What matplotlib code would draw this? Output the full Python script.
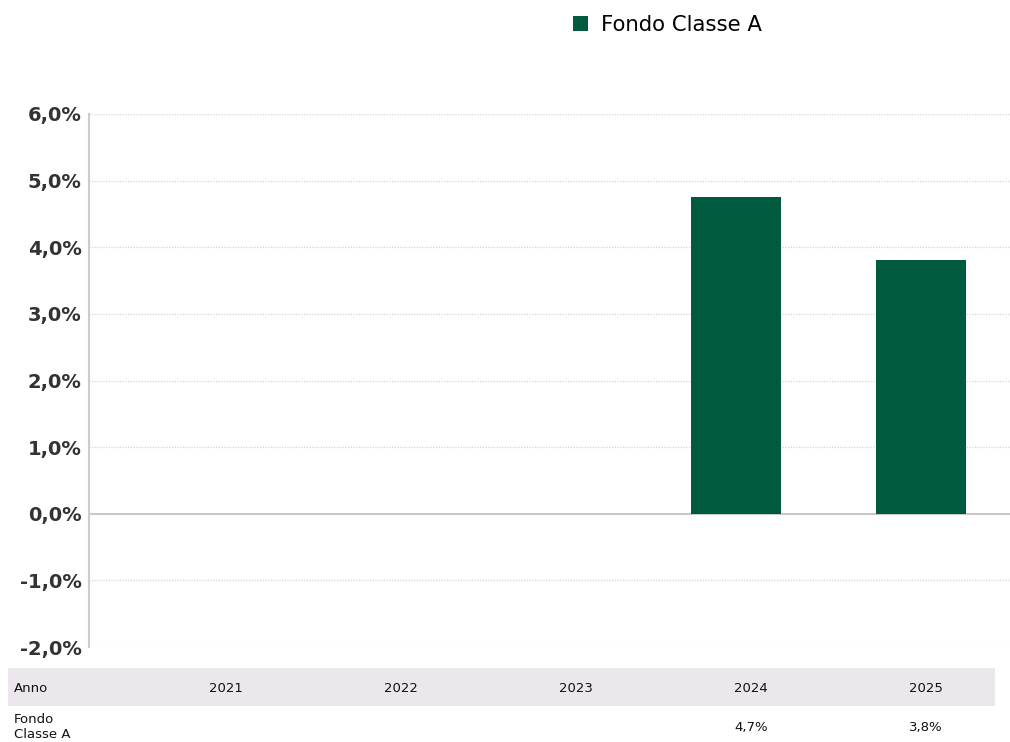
import matplotlib.pyplot as plt
import numpy as np

# dati
anni = ['2021', '2022', '2023', '2024', '2025']
fondo_a = [np.nan, np.nan, np.nan, 4.76, 3.81]
fondo_a_label = ['', '', '', '4,7%', '3,8%']
serie = 'Fondo Classe A'
yticks = [-2, -1, 0, 1, 2, 3, 4, 5, 6]

verde = '#005A3F'
testo = '#333333'

fig = plt.figure(figsize=(10.1, 7.42), dpi=100)
plt.rcParams['font.family'] = ['DejaVu Sans']

# grafico principale
ax = fig.add_axes([88.5 / 1010, 95 / 742, 925 / 1010, 533 / 742])
x = np.arange(len(anni))
barre = ax.bar(x, fondo_a, width=0.49, color=verde, label=serie, zorder=3)
ax.set_xlim(-0.5, len(anni) - 0.5)
ax.set_ylim(-2, 6)
ax.set_yticks(yticks)
ax.set_yticklabels([f'{v},0%' for v in yticks], fontsize=14, fontweight='bold', color=testo)
ax.set_xticks([])
ax.tick_params(axis='y', length=0, pad=5)
for s in ['top', 'right', 'bottom']:
    ax.spines[s].set_visible(False)
ax.spines['left'].set_color('#cccccc')
ax.spines['left'].set_linewidth(1.5)
for v in yticks:
    if v == 0:
        ax.axhline(0, color='#c8c8c8', lw=1.5, zorder=2)
    else:
        ax.axhline(v, color='#d4d4d4', lw=0.9, ls=(0, (1, 1.2)), zorder=1)

# legenda
fig.legend(handles=[barre], labels=[serie], loc='center left',
           bbox_to_anchor=(573 / 1010, 1 - 25 / 742), frameon=False,
           fontsize=15.3, handlelength=0.72, handleheight=0.72, handletextpad=0.62,
           borderpad=0, borderaxespad=0)

# tabella sotto il grafico
at = fig.add_axes([0, 0, 1, 95 / 742])
at.set_xlim(-226 / 175, (1010 - 226) / 175)
at.set_ylim(742, 647)
at.axis('off')
at.fill_between([(8 - 226) / 175, (995 - 226) / 175], 668, 706, color='#ECE7EC', lw=0)
at.text((14 - 226) / 175, 688, 'Anno', fontsize=9.5, ha='left', va='center', color='#111111')
at.text((14 - 226) / 175, 727, 'Fondo\nClasse A', fontsize=9.5, ha='left', va='center',
        color='#111111', linespacing=1.2)
for i, (a, v) in enumerate(zip(anni, fondo_a_label)):
    at.text(i, 688, a, fontsize=9.5, ha='center', va='center', color='#111111')
    at.text(i, 727, v, fontsize=9.5, ha='center', va='center', color='#111111')

fig.savefig('out.png', dpi=100)
